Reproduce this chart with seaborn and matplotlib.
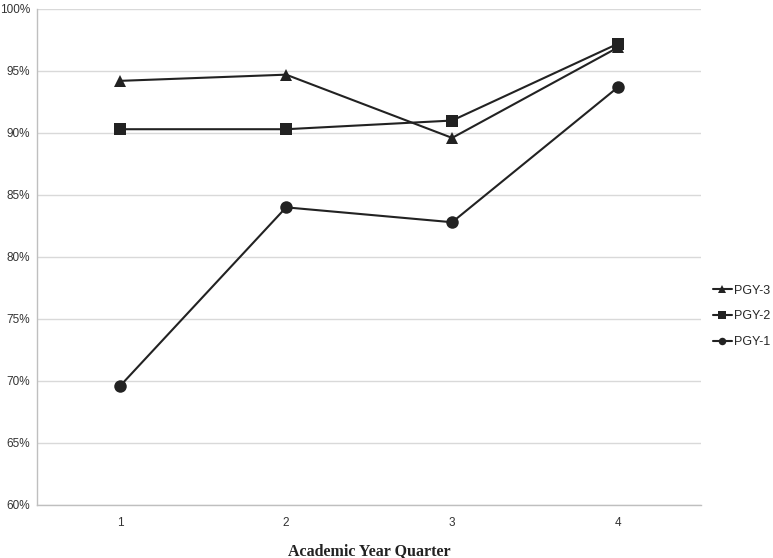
import matplotlib
matplotlib.use("Agg")
import matplotlib.pyplot as plt
import seaborn as sns
import pandas as pd
from matplotlib.ticker import FuncFormatter

quarters = [1, 2, 3, 4]
pgy1 = [69.6, 84.0, 82.8, 93.7]
pgy2 = [90.3, 90.3, 91.0, 97.2]
pgy3 = [94.2, 94.7, 89.6, 96.9]
series_names = ["PGY-3", "PGY-2", "PGY-1"]
yticks = [60, 65, 70, 75, 80, 85, 90, 95, 100]

rows = []
for name, vals in zip(series_names, [pgy3, pgy2, pgy1]):
    for q, v in zip(quarters, vals):
        rows.append({"Quarter": q, "Value": v, "Group": name})
df = pd.DataFrame(rows)

sns.set_style("white")
plt.rcParams['font.family'] = ['Liberation Sans', 'DejaVu Sans']

fig = plt.figure(figsize=(7.73, 5.58), dpi=100)
ax = fig.add_axes([0.048, 0.095, 0.859, 0.889])

col = "#222222"
sns.lineplot(data=df, x="Quarter", y="Value", hue="Group", style="Group",
             hue_order=series_names, style_order=series_names,
             palette={n: col for n in series_names},
             markers={"PGY-3": "^", "PGY-2": "s", "PGY-1": "o"},
             dashes=False, markersize=9, linewidth=1.5, markeredgewidth=0,
             ax=ax)

ax.set_xlim(0.5, 4.5)
ax.set_ylim(60, 100)
ax.set_xticks(quarters)
ax.set_yticks(yticks)
ax.yaxis.set_major_formatter(FuncFormatter(lambda v, p: f"{int(v)}%"))
ax.grid(axis="y", color="#d9d9d9", linewidth=1)
ax.set_axisbelow(True)
for s in ["top", "right"]:
    ax.spines[s].set_visible(False)
for s in ["left", "bottom"]:
    ax.spines[s].set_color("#bfbfbf")
    ax.spines[s].set_linewidth(1)
ax.tick_params(axis="y", length=0, labelsize=8.5, colors="#333333", pad=5)
ax.tick_params(axis="x", length=0, labelsize=8.5, colors="#333333", pad=9)
ax.set_ylabel("")
ax.set_xlabel("Academic Year Quarter", fontsize=11.5, fontweight="bold",
              family=["Liberation Serif", "DejaVu Serif"], color="#222222", labelpad=10)

h, l = ax.get_legend_handles_labels()
ax.legend(h, l, loc="center left", bbox_to_anchor=(1.01, 0.38), frameon=False,
          fontsize=9, handlelength=1.5, handletextpad=0.2, labelspacing=1.1,
          markerscale=0.6, borderaxespad=0.0)

fig.savefig("out.png", dpi=100)
